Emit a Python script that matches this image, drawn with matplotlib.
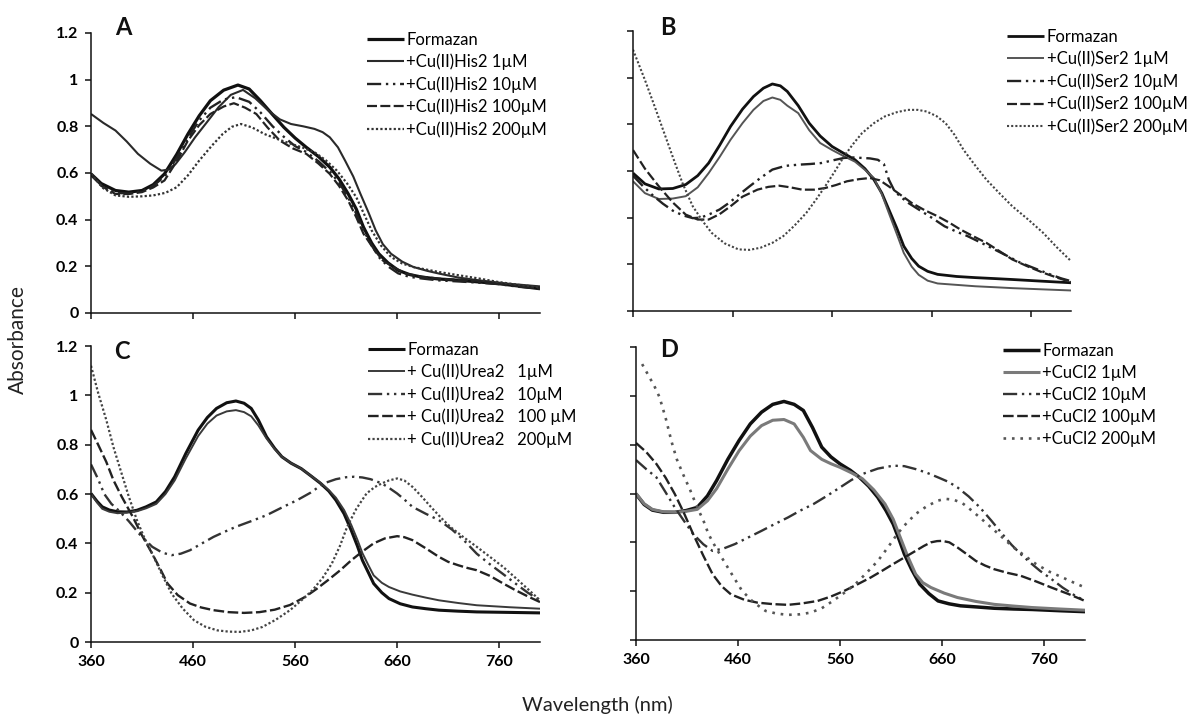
import matplotlib
matplotlib.use("Agg")
import matplotlib.pyplot as plt

plt.rcParams['font.family'] = ['Lato', 'DejaVu Sans']

# ---------------- Panel A : Cu(II)His2 ----------------
A_form_nm = [360, 370, 384, 397, 410, 421, 432, 444, 455, 466, 477, 490, 504, 515, 526, 538, 549, 560, 571, 583,
             594, 603, 612, 620, 627, 635, 642, 651, 661, 672, 684, 700, 721, 740, 759, 780, 800]
A_form_abs = [0.596, 0.555, 0.525, 0.518, 0.525, 0.550, 0.596, 0.680, 0.767, 0.845, 0.910, 0.955, 0.977, 0.960,
              0.910, 0.850, 0.796, 0.750, 0.710, 0.670, 0.625, 0.575, 0.511, 0.445, 0.368, 0.300, 0.254, 0.215,
              0.183, 0.165, 0.154, 0.146, 0.140, 0.133, 0.126, 0.115, 0.104]
A_1uM_nm = [360, 372, 384, 395, 406, 418, 429, 436, 443, 452, 462, 474, 485, 497, 509, 521, 534, 545, 556, 568,
            579, 587, 594, 602, 609, 617, 624, 632, 639, 646, 654, 665, 676, 690, 702, 720, 740, 770, 800]
A_1uM_abs = [0.853, 0.815, 0.782, 0.735, 0.682, 0.640, 0.610, 0.615, 0.639, 0.690, 0.753, 0.820, 0.882, 0.935,
             0.956, 0.920, 0.867, 0.830, 0.810, 0.800, 0.789, 0.775, 0.753, 0.710, 0.653, 0.585, 0.511, 0.430,
             0.354, 0.295, 0.254, 0.220, 0.197, 0.180, 0.168, 0.152, 0.140, 0.125, 0.114]
A_10uM_nm = [360, 372, 384, 397, 410, 421, 432, 444, 455, 466, 477, 490, 502, 515, 526, 538, 549, 560, 571, 583,
             594, 603, 612, 620, 627, 635, 642, 651, 661, 672, 684, 700, 721, 740, 759, 780, 800]
A_10uM_abs = [0.590, 0.540, 0.515, 0.512, 0.522, 0.545, 0.585, 0.665, 0.750, 0.825, 0.880, 0.915, 0.925, 0.905,
              0.860, 0.800, 0.755, 0.715, 0.690, 0.650, 0.605, 0.560, 0.495, 0.425, 0.355, 0.290, 0.240, 0.200,
              0.170, 0.155, 0.148, 0.140, 0.135, 0.130, 0.124, 0.112, 0.105]
A_100uM_nm = [360, 370, 384, 397, 410, 421, 432, 444, 455, 466, 477, 490, 500, 511, 522, 533, 545, 558, 571, 583,
              594, 603, 612, 620, 627, 637, 646, 657, 669, 685, 702, 720, 740, 750, 759, 780, 800]
A_100uM_abs = [0.596, 0.545, 0.510, 0.510, 0.518, 0.538, 0.568, 0.650, 0.739, 0.805, 0.853, 0.885, 0.899, 0.880,
               0.853, 0.795, 0.739, 0.705, 0.682, 0.640, 0.596, 0.545, 0.482, 0.410, 0.340, 0.275, 0.225, 0.195,
               0.168, 0.155, 0.147, 0.142, 0.138, 0.132, 0.126, 0.115, 0.104]
A_200uM_nm = [360, 372, 384, 397, 410, 421, 433, 444, 455, 466, 478, 489, 498, 507, 518, 530, 543, 556, 568, 579,
              590, 601, 611, 620, 628, 635, 644, 654, 665, 676, 690, 702, 720, 740, 759, 780, 800]
A_200uM_abs = [0.596, 0.535, 0.504, 0.498, 0.500, 0.504, 0.515, 0.539, 0.590, 0.653, 0.715, 0.767, 0.798, 0.810,
               0.795, 0.767, 0.745, 0.725, 0.708, 0.689, 0.655, 0.610, 0.555, 0.496, 0.420, 0.354, 0.290, 0.240,
               0.212, 0.197, 0.185, 0.175, 0.162, 0.148, 0.133, 0.120, 0.111]
A_labels = ["Formazan", "+Cu(II)His2 1µM", "+Cu(II)His2 10µM", "+Cu(II)His2 100µM", "+Cu(II)His2 200µM"]

# ---------------- Panel B : Cu(II)Ser2 ----------------
B_form_nm = [360, 372, 386, 400, 413, 425, 436, 447, 458, 470, 481, 491, 500, 508, 515, 526, 537, 548, 560, 572,
             583, 593, 602, 610, 617, 625, 632, 640, 647, 656, 666, 685, 704, 723, 741, 770, 800]
B_form_abs = [0.591, 0.545, 0.523, 0.525, 0.542, 0.580, 0.634, 0.710, 0.791, 0.865, 0.919, 0.955, 0.973, 0.965,
              0.941, 0.880, 0.805, 0.750, 0.705, 0.675, 0.648, 0.610, 0.563, 0.505, 0.435, 0.355, 0.278, 0.225,
              0.192, 0.170, 0.157, 0.148, 0.143, 0.139, 0.135, 0.128, 0.121]
B_1uM_nm = [360, 372, 386, 400, 413, 425, 436, 447, 458, 470, 481, 491, 500, 508, 515, 526, 537, 548, 560, 572,
            583, 593, 602, 610, 617, 625, 632, 640, 647, 656, 666, 685, 704, 723, 741, 770, 800]
B_1uM_abs = [0.556, 0.505, 0.480, 0.482, 0.492, 0.530, 0.591, 0.660, 0.734, 0.805, 0.862, 0.900, 0.915, 0.905,
             0.880, 0.848, 0.775, 0.720, 0.690, 0.663, 0.640, 0.605, 0.570, 0.500, 0.420, 0.330, 0.249, 0.190,
             0.155, 0.130, 0.118, 0.112, 0.106, 0.102, 0.098, 0.093, 0.088]
B_10uM_nm = [360, 370, 380, 390, 400, 410, 420, 428, 437, 447, 457, 467, 477, 488, 500, 513, 526, 538, 549, 560,
             572, 581, 590, 598, 606, 612, 617, 622, 628, 637, 647, 660, 673, 685, 696, 710, 723, 736, 749, 764,
             779, 790, 800]
B_10uM_abs = [0.580, 0.535, 0.495, 0.460, 0.430, 0.410, 0.398, 0.400, 0.415, 0.435, 0.465, 0.500, 0.534, 0.570,
              0.606, 0.622, 0.627, 0.630, 0.634, 0.645, 0.656, 0.658, 0.656, 0.654, 0.648, 0.630, 0.563, 0.520,
              0.492, 0.462, 0.435, 0.400, 0.363, 0.340, 0.321, 0.292, 0.264, 0.236, 0.207, 0.182, 0.157, 0.140,
              0.128]
B_100uM_nm = [360, 372, 386, 400, 413, 425, 436, 447, 458, 470, 485, 496, 507, 518, 530, 542, 553, 564, 575, 587,
              598, 608, 617, 628, 640, 653, 666, 678, 689, 702, 715, 728, 741, 756, 772, 786, 800]
B_100uM_abs = [0.690, 0.610, 0.534, 0.465, 0.413, 0.392, 0.392, 0.415, 0.449, 0.490, 0.520, 0.532, 0.537, 0.530,
               0.520, 0.520, 0.527, 0.540, 0.556, 0.565, 0.570, 0.560, 0.534, 0.500, 0.463, 0.432, 0.406, 0.378,
               0.349, 0.320, 0.292, 0.257, 0.221, 0.192, 0.164, 0.143, 0.124]
B_200uM_nm = [360, 372, 383, 392, 401, 410, 420, 430, 439, 452, 466, 477, 488, 500, 511, 522, 534, 544, 553, 563,
              572, 581, 590, 602, 613, 625, 636, 646, 655, 665, 674, 683, 692, 703, 715, 728, 741, 757, 772, 786,
              800]
B_200uM_abs = [1.120, 0.990, 0.862, 0.755, 0.648, 0.545, 0.449, 0.385, 0.335, 0.290, 0.264, 0.262, 0.271, 0.292,
               0.321, 0.365, 0.420, 0.478, 0.534, 0.600, 0.663, 0.715, 0.762, 0.805, 0.834, 0.852, 0.862, 0.862,
               0.855, 0.835, 0.805, 0.755, 0.691, 0.628, 0.563, 0.505, 0.449, 0.392, 0.335, 0.272, 0.214]
B_labels = ["Formazan", "+Cu(II)Ser2 1µM", "+Cu(II)Ser2 10µM", "+Cu(II)Ser2 100µM", "+Cu(II)Ser2 200µM"]

# ---------------- Panel C : Cu(II)Urea2 ----------------
C_form_nm = [360, 366, 371, 378, 386, 395, 405, 414, 424, 433, 442, 453, 465, 474, 483, 493, 502, 510, 517, 524,
             532, 540, 547, 556, 566, 575, 585, 593, 600, 608, 615, 621, 626, 632, 637, 645, 652, 663, 675, 688,
             701, 720, 738, 770, 800]
C_form_abs = [0.602, 0.570, 0.548, 0.535, 0.528, 0.527, 0.534, 0.548, 0.568, 0.610, 0.670, 0.765, 0.859, 0.910,
              0.947, 0.970, 0.977, 0.968, 0.947, 0.900, 0.832, 0.785, 0.751, 0.725, 0.703, 0.675, 0.643, 0.612,
              0.575, 0.520, 0.453, 0.390, 0.331, 0.280, 0.237, 0.200, 0.176, 0.155, 0.142, 0.135, 0.129, 0.125,
              0.122, 0.120, 0.118]
C_1uM_nm = [360, 366, 371, 378, 386, 395, 405, 414, 424, 433, 442, 453, 465, 474, 483, 493, 502, 510, 517, 524,
            532, 540, 547, 556, 566, 575, 585, 593, 600, 608, 615, 621, 626, 632, 637, 645, 652, 663, 675, 688,
            701, 720, 738, 770, 800]
C_1uM_abs = [0.600, 0.565, 0.540, 0.528, 0.522, 0.525, 0.530, 0.542, 0.560, 0.600, 0.655, 0.745, 0.835, 0.885,
             0.918, 0.935, 0.940, 0.932, 0.915, 0.878, 0.825, 0.782, 0.751, 0.725, 0.703, 0.675, 0.645, 0.616,
             0.585, 0.535, 0.475, 0.415, 0.360, 0.310, 0.270, 0.240, 0.223, 0.205, 0.192, 0.180, 0.169, 0.158,
             0.149, 0.141, 0.135]
C_10uM_nm = [360, 367, 373, 380, 388, 397, 408, 420, 430, 439, 448, 457, 468, 480, 491, 502, 517, 532, 547, 562,
             575, 588, 600, 610, 618, 626, 634, 645, 652, 660, 667, 675, 688, 701, 714, 726, 738, 750, 763, 776,
             788, 800]
C_10uM_abs = [0.720, 0.660, 0.600, 0.560, 0.530, 0.490, 0.435, 0.386, 0.362, 0.352, 0.358, 0.372, 0.398, 0.426,
              0.447, 0.467, 0.490, 0.514, 0.545, 0.575, 0.605, 0.643, 0.660, 0.668, 0.670, 0.667, 0.660, 0.643,
              0.625, 0.602, 0.578, 0.548, 0.520, 0.494, 0.455, 0.410, 0.358, 0.318, 0.278, 0.237, 0.200, 0.169]
C_100uM_nm = [360, 367, 375, 382, 390, 401, 410, 420, 428, 435, 445, 457, 468, 480, 495, 510, 525, 540, 555, 570,
              581, 592, 604, 615, 626, 637, 648, 660, 667, 675, 688, 701, 710, 720, 729, 738, 751, 764, 776, 788,
              800]
C_100uM_abs = [0.860, 0.800, 0.730, 0.656, 0.590, 0.507, 0.432, 0.358, 0.295, 0.237, 0.190, 0.156, 0.140, 0.129,
               0.121, 0.118, 0.121, 0.131, 0.150, 0.183, 0.215, 0.250, 0.290, 0.331, 0.367, 0.400, 0.420, 0.429,
               0.425, 0.413, 0.380, 0.345, 0.325, 0.311, 0.300, 0.291, 0.268, 0.237, 0.210, 0.185, 0.162]
C_200uM_nm = [360, 367, 375, 382, 390, 397, 405, 412, 420, 430, 439, 450, 461, 472, 484, 495, 506, 517, 528, 541,
              555, 566, 577, 587, 596, 604, 611, 620, 630, 638, 645, 652, 660, 667, 675, 684, 693, 702, 712, 725,
              738, 751, 764, 776, 788, 800]
C_200uM_abs = [1.120, 1.010, 0.900, 0.790, 0.683, 0.590, 0.494, 0.425, 0.358, 0.270, 0.196, 0.135, 0.088, 0.062,
               0.047, 0.042, 0.041, 0.047, 0.061, 0.090, 0.129, 0.168, 0.210, 0.260, 0.318, 0.390, 0.467, 0.540,
               0.602, 0.628, 0.643, 0.655, 0.663, 0.655, 0.629, 0.590, 0.548, 0.508, 0.467, 0.425, 0.386, 0.345,
               0.304, 0.260, 0.215, 0.169]
C_labels = ["Formazan", "+ Cu(II)Urea2   1µM", "+ Cu(II)Urea2   10µM", "+ Cu(II)Urea2   100 µM",
            "+ Cu(II)Urea2   200µM"]

# ---------------- Panel D : CuCl2 ----------------
D_form_nm = [360, 368, 376, 387, 398, 409, 420, 430, 439, 450, 461, 472, 483, 494, 505, 515, 524, 533, 542, 551,
             560, 570, 579, 588, 597, 605, 612, 618, 623, 630, 638, 647, 656, 667, 678, 695, 711, 730, 748, 775,
             800]
D_form_abs = [0.598, 0.555, 0.532, 0.523, 0.523, 0.530, 0.543, 0.590, 0.653, 0.740, 0.817, 0.885, 0.933, 0.965,
              0.977, 0.965, 0.940, 0.870, 0.790, 0.750, 0.721, 0.695, 0.666, 0.630, 0.584, 0.530, 0.475, 0.410,
              0.352, 0.290, 0.229, 0.190, 0.160, 0.148, 0.140, 0.135, 0.130, 0.127, 0.125, 0.120, 0.116]
D_1uM_nm = [360, 368, 376, 387, 398, 409, 420, 430, 439, 450, 461, 472, 483, 494, 505, 515, 524, 531, 542, 551,
            560, 571, 582, 593, 604, 612, 619, 626, 634, 641, 649, 662, 675, 693, 711, 730, 748, 775, 800]
D_1uM_abs = [0.600, 0.558, 0.535, 0.525, 0.523, 0.527, 0.535, 0.570, 0.620, 0.700, 0.775, 0.835, 0.878, 0.900,
             0.903, 0.885, 0.830, 0.776, 0.740, 0.722, 0.707, 0.685, 0.660, 0.615, 0.557, 0.495, 0.420, 0.345,
             0.270, 0.235, 0.215, 0.192, 0.174, 0.158, 0.146, 0.139, 0.133, 0.127, 0.122]
D_10uM_nm = [360, 370, 380, 389, 398, 407, 416, 426, 435, 446, 457, 470, 483, 496, 509, 521, 534, 547, 560, 571,
             582, 597, 612, 623, 634, 645, 656, 666, 675, 686, 697, 708, 719, 728, 737, 746, 756, 767, 778, 789,
             800]
D_10uM_abs = [0.737, 0.700, 0.666, 0.605, 0.543, 0.488, 0.434, 0.392, 0.365, 0.375, 0.393, 0.420, 0.447, 0.475,
              0.502, 0.530, 0.557, 0.590, 0.625, 0.655, 0.680, 0.702, 0.714, 0.712, 0.700, 0.685, 0.666, 0.648,
              0.625, 0.588, 0.543, 0.490, 0.434, 0.390, 0.352, 0.318, 0.283, 0.250, 0.215, 0.185, 0.160]
D_100uM_nm = [360, 370, 380, 389, 398, 407, 416, 426, 435, 444, 453, 466, 479, 494, 509, 523, 538, 551, 564, 577,
              590, 601, 612, 623, 634, 642, 649, 655, 660, 667, 675, 684, 693, 702, 711, 724, 737, 752, 767, 784,
              800]
D_100uM_abs = [0.807, 0.770, 0.721, 0.665, 0.598, 0.520, 0.434, 0.345, 0.270, 0.220, 0.187, 0.165, 0.153, 0.147,
               0.144, 0.150, 0.160, 0.178, 0.201, 0.228, 0.256, 0.283, 0.311, 0.338, 0.365, 0.385, 0.400, 0.405,
               0.406, 0.400, 0.379, 0.352, 0.324, 0.305, 0.290, 0.275, 0.263, 0.240, 0.215, 0.188, 0.160]
D_200uM_nm = [366, 372, 378, 383, 389, 395, 400, 406, 413, 420, 426, 431, 438, 446, 455, 464, 475, 487, 498, 509,
              520, 531, 542, 553, 564, 575, 586, 597, 607, 616, 625, 634, 645, 656, 663, 671, 680, 689, 698, 708,
              719, 730, 741, 752, 765, 778, 789, 800]
D_200uM_abs = [1.130, 1.085, 1.040, 0.995, 0.910, 0.810, 0.740, 0.680, 0.615, 0.543, 0.490, 0.434, 0.380, 0.324,
               0.262, 0.201, 0.155, 0.119, 0.108, 0.103, 0.105, 0.112, 0.130, 0.160, 0.193, 0.229, 0.275, 0.324,
               0.380, 0.434, 0.478, 0.516, 0.548, 0.571, 0.578, 0.575, 0.560, 0.530, 0.498, 0.461, 0.420, 0.379,
               0.345, 0.311, 0.280, 0.256, 0.235, 0.215]
D_labels = ["Formazan", "+CuCl2 1µM", "+CuCl2 10µM", "+CuCl2 100µM", "+CuCl2 200µM"]

x_ticks = [360, 460, 560, 660, 760]
y_ticks = [0, 0.2, 0.4, 0.6, 0.8, 1.0, 1.2]
y_ticklabels = ["0", "0.2", "0.4", "0.6", "0.8", "1", "1.2"]

# dash patterns shared by all panels
dense_dot = (0, (1, 1))
dash_dot_dot = (0, (6, 2, 1, 2, 1, 2))
dashed = (0, (4.5, 1.5))

W, H = 1188, 721
fig = plt.figure(figsize=(W / 100, H / 100), dpi=100)


def box(left, right, top, bottom):
    return [left / W, 1 - bottom / H, (right - left) / W, (bottom - top) / H]


axA = fig.add_axes(box(91, 540, 33, 313))
axB = fig.add_axes(box(633, 1071, 31, 311))
axC = fig.add_axes(box(91, 540, 346, 642))
axD = fig.add_axes(box(636, 1085, 347, 640))

panels = [
    (axA, "A", [(A_form_nm, A_form_abs), (A_1uM_nm, A_1uM_abs), (A_10uM_nm, A_10uM_abs),
                (A_100uM_nm, A_100uM_abs), (A_200uM_nm, A_200uM_abs)], A_labels,
     ["#111111", "#2a2a2a", "#222222", "#222222", "#333333"],
     [2.3, 1.5, 1.7, 1.6, 1.6], ["-", "-", dash_dot_dot, dashed, dense_dot],
     (0.615, 1.005), (0.073, 1.018), True, False),
    (axB, "B", [(B_form_nm, B_form_abs), (B_1uM_nm, B_1uM_abs), (B_10uM_nm, B_10uM_abs),
                (B_100uM_nm, B_100uM_abs), (B_200uM_nm, B_200uM_abs)], B_labels,
     ["#111111", "#555555", "#222222", "#222222", "#444444"],
     [2.0, 1.4, 1.7, 1.6, 1.5], ["-", "-", dash_dot_dot, dashed, dense_dot],
     (0.855, 1.008), (0.08, 1.014), False, False),
    (axC, "C", [(C_form_nm, C_form_abs), (C_1uM_nm, C_1uM_abs), (C_10uM_nm, C_10uM_abs),
                (C_100uM_nm, C_100uM_abs), (C_200uM_nm, C_200uM_abs)], C_labels,
     ["#111111", "#3a3a3a", "#333333", "#222222", "#444444"],
     [2.2, 1.4, 1.7, 1.7, 1.6], ["-", "-", dash_dot_dot, dashed, dense_dot],
     (0.617, 1.015), (0.069, 0.983), True, True),
    (axD, "D", [(D_form_nm, D_form_abs), (D_1uM_nm, D_1uM_abs), (D_10uM_nm, D_10uM_abs),
                (D_100uM_nm, D_100uM_abs), (D_200uM_nm, D_200uM_abs)], D_labels,
     ["#111111", "#7a7a7a", "#333333", "#222222", "#555555"],
     [2.5, 2.2, 1.7, 1.7, 1.9], ["-", "-", dash_dot_dot, dashed, (0, (1, 2.2))],
     (0.818, 1.015), (0.073, 0.99), False, True),
]

for ax, letter, series, labels, colors, widths, styles, leg_anchor, letter_pos, show_y, show_x in panels:
    handles = []
    for (nm, ab), lab, c, lw, ls in zip(series, labels, colors, widths, styles):
        h, = ax.plot(nm, ab, color=c, lw=lw, linestyle=ls, label=lab,
                     solid_capstyle="butt", dash_capstyle="butt")
        handles.append(h)
    ax.set_xlim(360, 800)
    ax.set_ylim(0, 1.2)
    ax.set_xticks(x_ticks)
    ax.set_yticks(y_ticks)
    for s in ["top", "right"]:
        ax.spines[s].set_visible(False)
    for s in ["left", "bottom"]:
        ax.spines[s].set_linewidth(1.1)
        ax.spines[s].set_color("#111111")
    ax.tick_params(direction="out", length=4, width=1.1, color="#111111",
                   labelsize=11.5, pad=5)
    if show_y:
        ax.set_yticklabels(y_ticklabels, fontweight="bold")
    else:
        ax.set_yticklabels([])
    if show_x:
        ax.set_xticklabels([str(v) for v in x_ticks], fontweight="bold")
    else:
        ax.set_xticklabels([])
    ax.text(letter_pos[0], letter_pos[1], letter, transform=ax.transAxes,
            fontsize=17, fontweight="bold", ha="center", va="center", color="#111111")
    ax.legend(handles=handles, loc="upper left", bbox_to_anchor=leg_anchor, frameon=False,
              fontsize=12, handlelength=2.2, handletextpad=0.15, labelspacing=0.36,
              borderpad=0, borderaxespad=0)

fig.text(18 / W, 1 - 340 / H, "Absorbance", rotation=90, ha="center", va="center",
         fontsize=15, color="#222222")
fig.text(597 / W, 1 - 705 / H, "Wavelength (nm)", ha="center", va="center",
         fontsize=14.5, color="#222222")

fig.savefig("out.png", dpi=100)
